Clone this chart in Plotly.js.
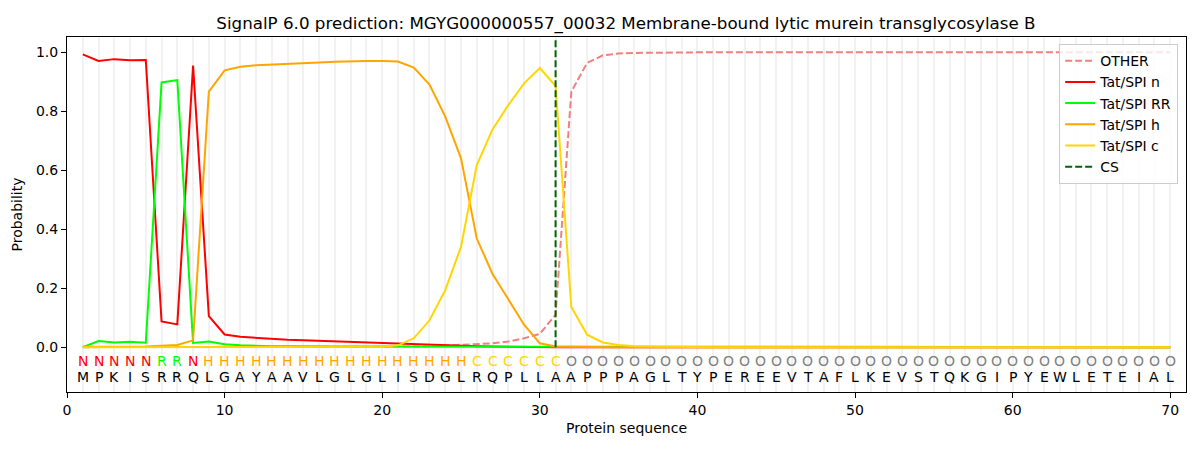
<!DOCTYPE html>
<html>
<head>
<meta charset="utf-8">
<script src="https://cdn.plot.ly/plotly-3.0.1.min.js"></script>
<style>
  body { margin: 0; background: #fff; }
  #grafik { width: 1200px; height: 450px; }
</style>
</head>
<body>
<div id="grafik"></div>
<script>
// Sequence and per-residue region labels
const sequence = "MPKISRRQLGAYAAVLGLGLISDGLRQPLLAAPPPAGLTYPEREEVTAFLKEVSTQKGIPYEWLETEIAL";
const regions  = "NNNNNRRNHHHHHHHHHHHHHHHHHCCCCCCOOOOOOOOOOOOOOOOOOOOOOOOOOOOOOOOOOOOOOO";

// Probabilities, one per residue (1..70)
const other = [
  0, 0, 0, 0, 0, 0, 0, 0, 0, 0,
  0, 0, 0, 0, 0, 0, 0, 0, 0, 0.001,
  0.001, 0.002, 0.003, 0.005, 0.007, 0.010, 0.013, 0.019, 0.030, 0.045,
  0.110, 0.866, 0.963, 0.989, 0.995, 0.997, 0.998, 0.999, 0.999, 0.999,
  0.999, 0.999, 0.999, 0.999, 0.999, 0.999, 0.999, 0.999, 0.999, 0.999,
  0.999, 0.999, 0.999, 0.999, 0.999, 0.999, 0.999, 0.999, 0.999, 0.999,
  0.999, 0.999, 0.999, 0.999, 0.999, 0.999, 0.999, 0.999, 0.999, 0.999
];
const tatN = [
  0.992, 0.970, 0.976, 0.972, 0.973, 0.087, 0.077, 0.954, 0.105, 0.043,
  0.035, 0.031, 0.028, 0.025, 0.023, 0.021, 0.019, 0.017, 0.016, 0.014,
  0.013, 0.011, 0.009, 0.007, 0.005, 0.003, 0.002, 0.001, 0.001, 0,
  0, 0, 0, 0, 0, 0, 0, 0, 0, 0,
  0, 0, 0, 0, 0, 0, 0, 0, 0, 0,
  0, 0, 0, 0, 0, 0, 0, 0, 0, 0,
  0, 0, 0, 0, 0, 0, 0, 0, 0, 0
];
const tatRR = [
  0, 0.021, 0.016, 0.018, 0.015, 0.897, 0.905, 0.014, 0.019, 0.010,
  0.006, 0.004, 0.003, 0.003, 0.002, 0.002, 0.002, 0.002, 0.002, 0.002,
  0.001, 0.001, 0.001, 0.001, 0.001, 0, 0, 0, 0, 0,
  0, 0, 0, 0, 0, 0, 0, 0, 0, 0,
  0, 0, 0, 0, 0, 0, 0, 0, 0, 0,
  0, 0, 0, 0, 0, 0, 0, 0, 0, 0,
  0, 0, 0, 0, 0, 0, 0, 0, 0, 0
];
const tatH = [
  0.001, 0.001, 0.001, 0.001, 0.002, 0.005, 0.007, 0.023, 0.866, 0.938,
  0.950, 0.955, 0.958, 0.961, 0.963, 0.965, 0.967, 0.969, 0.970, 0.970,
  0.968, 0.947, 0.890, 0.781, 0.640, 0.368, 0.248, 0.162, 0.076, 0.013,
  0.002, 0.001, 0, 0, 0, 0, 0, 0, 0, 0,
  0, 0, 0, 0, 0, 0, 0, 0, 0, 0,
  0, 0, 0, 0, 0, 0, 0, 0, 0, 0,
  0, 0, 0, 0, 0, 0, 0, 0, 0, 0
];
const tatC = [
  0, 0, 0, 0, 0, 0, 0, 0, 0, 0,
  0, 0, 0, 0, 0, 0, 0, 0, 0, 0.001,
  0.006, 0.030, 0.091, 0.193, 0.340, 0.617, 0.738, 0.820, 0.894, 0.946,
  0.885, 0.136, 0.042, 0.016, 0.007, 0.003, 0.002, 0.001, 0, 0,
  0, 0, 0, 0, 0, 0, 0, 0, 0, 0,
  0, 0, 0, 0, 0, 0, 0, 0, 0, 0,
  0, 0, 0, 0, 0, 0, 0, 0, 0, 0
];
const csPos = 31;

const pos = sequence.split("").map((_, i) => i + 1);
const regionColor = { N: "red", R: "lime", H: "orange", C: "gold", O: "gray" };

function line(name, y, color, dash) {
  return {
    x: pos, y: y, name: name, type: "scatter", mode: "lines",
    line: { color: color, width: 2, dash: dash || "solid" }
  };
}

const data = [
  line("OTHER", other, "lightcoral", "7px,3px"),
  line("Tat/SPI n", tatN, "red"),
  line("Tat/SPI RR", tatRR, "lime"),
  line("Tat/SPI h", tatH, "orange"),
  line("Tat/SPI c", tatC, "gold"),
  {
    x: [csPos, csPos], y: [0, 1.045], name: "CS", type: "scatter", mode: "lines",
    line: { color: "darkgreen", width: 2, dash: "7px,3px" }
  }
];

// Letters under the curves
const annotations = [];
pos.forEach((p, i) => {
  annotations.push({
    x: p, y: -0.046, xref: "x", yref: "y", text: regions[i], showarrow: false,
    yanchor: "middle", font: { size: 14, color: regionColor[regions[i]] }
  });
  annotations.push({
    x: p, y: -0.1, xref: "x", yref: "y", text: sequence[i], showarrow: false,
    yanchor: "middle", font: { size: 14, color: "black" }
  });
});

const axisBase = {
  showline: true, mirror: true, linecolor: "black", linewidth: 1,
  ticks: "outside", ticklen: 5, tickcolor: "black", tickwidth: 1,
  zeroline: false, tickfont: { size: 14, color: "black" }
};

const layout = {
  width: 1200, height: 450,
  font: { family: "DejaVu Sans", color: "black" },
  paper_bgcolor: "white", plot_bgcolor: "white",
  margin: { l: 67, r: 14, t: 37, b: 58 },
  title: {
    text: "SignalP 6.0 prediction: MGYG000000557_00032 Membrane-bound lytic murein transglycosylase B",
    font: { size: 16.7 }, x: 0.5216, xanchor: "center", yref: "container", y: 0.949, yanchor: "middle"
  },
  xaxis: Object.assign({}, axisBase, {
    range: [0, 71], tick0: 0, dtick: 10,
    showgrid: true, gridcolor: "#f2f2f2", gridwidth: 2,
    minor: { tick0: 0, dtick: 1, showgrid: true, gridcolor: "#f2f2f2", gridwidth: 2, ticks: "" },
    title: { text: "Protein sequence", font: { size: 14 }, standoff: 6 }
  }),
  yaxis: Object.assign({}, axisBase, {
    range: [-0.152, 1.051], tickvals: [0, 0.2, 0.4, 0.6, 0.8, 1.0], tickformat: ".1f",
    showgrid: false,
    title: { text: "Probability", font: { size: 14 }, standoff: 10 }
  }),
  legend: {
    x: 0.993, xanchor: "right", y: 0.98, yanchor: "top",
    bgcolor: "rgba(255,255,255,0.8)", bordercolor: "#cccccc", borderwidth: 1,
    font: { size: 14 }
  },
  showlegend: true,
  annotations: annotations
};

Plotly.newPlot("grafik", data, layout, { staticPlot: true });
</script>
</body>
</html>
